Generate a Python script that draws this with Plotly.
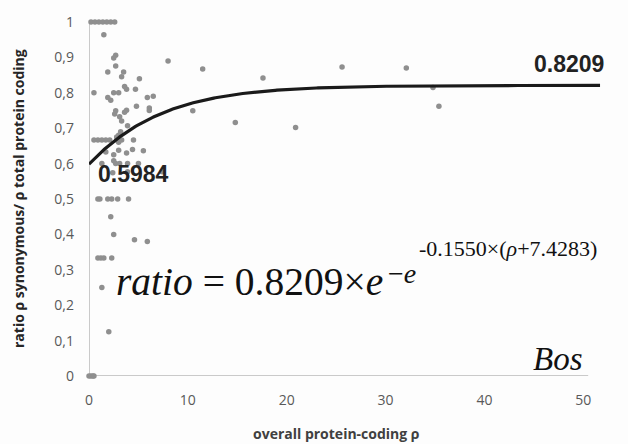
import numpy as np
import plotly.graph_objects as go

# observed points (overall protein-coding rho, ratio)
x_pts = [0.2, 0.6, 1.0, 1.4, 1.8, 2.2, 2.6,
         1.5, 2.7, 2.5, 1.9, 2.7, 3.5, 3.3, 5.1, 8.0,
         0.5, 2.5, 3.0, 3.6, 3.8, 4.7, 1.9, 2.2, 5.9, 6.5,
         4.8, 6.1, 6.1, 3.8, 3.6, 2.7, 2.6, 10.5,
         3.1, 3.3, 3.9, 3.2, 3.0,
         0.5, 0.9, 1.3, 1.7, 2.1, 2.8, 3.0, 3.3, 4.5,
         2.8, 3.0, 3.0, 4.4, 5.5, 3.8, 1.7, 2.5,
         1.3, 2.5, 2.7, 3.1, 3.9, 5.0, 2.4, 3.9, 7.4,
         0.9, 1.1, 1.9, 2.3, 2.9, 4.0,
         2.2, 2.5, 4.6, 5.9, 0.9, 1.2, 1.5, 2.3, 1.3, 2.0,
         0.0, 0.2, 0.4, 0.5,
         11.5, 17.6, 14.8, 20.9, 25.6, 32.1, 34.8, 35.4]
y_pts = [1, 1, 1, 1, 1, 1, 1,
         0.964, 0.906, 0.898, 0.859, 0.876, 0.859, 0.845, 0.84, 0.89,
         0.80, 0.80, 0.80, 0.818, 0.81, 0.81, 0.787, 0.779, 0.787, 0.79,
         0.762, 0.757, 0.75, 0.751, 0.745, 0.749, 0.74, 0.749,
         0.732, 0.72, 0.707, 0.69, 0.68,
         0.667, 0.667, 0.667, 0.667, 0.667, 0.667, 0.667, 0.667, 0.667,
         0.675, 0.66, 0.638, 0.64, 0.636, 0.63, 0.633, 0.625,
         0.6, 0.608, 0.6, 0.6, 0.6, 0.6, 0.574, 0.577, 0.577,
         0.5, 0.5, 0.5, 0.5, 0.5, 0.5,
         0.45, 0.40, 0.385, 0.38, 0.333, 0.333, 0.333, 0.333, 0.25, 0.125,
         0, 0, 0, 0,
         0.867, 0.842, 0.716, 0.702, 0.873, 0.870, 0.815, 0.762]

# Gompertz fit parameters shown on the chart
A_ASYM = 0.8209
B_RATE = 0.1550
C_SHIFT = 7.4283
FIT_X_MAX = 51.7

x_ticks = [0, 10, 20, 30, 40, 50]
y_ticks = [0, 0.1, 0.2, 0.3, 0.4, 0.5, 0.6, 0.7, 0.8, 0.9, 1]
y_tick_text = ["0", "0,1", "0,2", "0,3", "0,4", "0,5", "0,6", "0,7", "0,8", "0,9", "1"]

xf = np.linspace(0, FIT_X_MAX, 300)
yf = A_ASYM * np.exp(-np.exp(-B_RATE * (xf + C_SHIFT)))

fig = go.Figure()
fig.add_trace(go.Scatter(x=x_pts, y=y_pts, mode="markers",
                         marker=dict(size=5.5, color="#8f8f8f"),
                         cliponaxis=False, showlegend=False))
fig.add_trace(go.Scatter(x=xf, y=yf, mode="lines",
                         line=dict(color="#1a1a1a", width=3.2),
                         cliponaxis=False, showlegend=False))

axis_col = "#b8b8b8"
fig.add_shape(type="line", x0=0, x1=50.5, y0=0, y1=0, xref="x", yref="y",
              line=dict(color=axis_col, width=1.5), layer="below")
fig.add_shape(type="line", x0=0, x1=0, y0=0, y1=1, xref="x", yref="y",
              line=dict(color=axis_col, width=1.5), layer="below")

serif = "Liberation Serif"
ann = []
ann.append(dict(x=FIT_X_MAX, y=A_ASYM, xref="x", yref="y", text="<b>%.4f</b>" % A_ASYM,
                xanchor="right", yanchor="bottom", yshift=6, xshift=6, showarrow=False,
                font=dict(family="Liberation Sans", size=23, color="#222")))
ann.append(dict(x=0.7, y=0.5984, xref="x", yref="y", text="<b>0.5984</b>",
                xanchor="left", yanchor="top", yshift=5, showarrow=False,
                font=dict(family="Liberation Sans", size=23, color="#222")))
ann.append(dict(x=2.55, y=0.265, xref="x", yref="y",
                text="<i>ratio</i> = 0.8209×<i>e</i>",
                xanchor="left", yanchor="middle", showarrow=False,
                font=dict(family=serif, size=39.5, color="#111")))
ann.append(dict(x=30.0, y=0.29, xref="x", yref="y",
                text="−<i>e</i>",
                xanchor="left", yanchor="middle", showarrow=False,
                font=dict(family=serif, size=28, color="#111")))
ann.append(dict(x=33.2, y=0.36, xref="x", yref="y",
                text="-0.1550×(<i>ρ</i>+7.4283)",
                xanchor="left", yanchor="middle", showarrow=False,
                font=dict(family=serif, size=22, color="#111")))
ann.append(dict(x=50.2, y=0.005, xref="x", yref="y", text="<i>Bos</i>",
                xanchor="right", yanchor="bottom", yshift=-5, showarrow=False,
                font=dict(family=serif, size=33, color="#111")))
ann.append(dict(x=25, y=0, xref="x", yref="paper", text="<b>overall protein-coding ρ</b>",
                xanchor="center", yanchor="middle", yshift=-57, showarrow=False,
                font=dict(family="Open Sans", size=14, color="#404040")))
ann.append(dict(x=0, y=0.5, xref="paper", yref="paper",
                text="<b>ratio ρ synonymous/ ρ total protein coding</b>",
                textangle=-90, xanchor="center", yanchor="middle", xshift=-71,
                showarrow=False,
                font=dict(family="Open Sans", size=14, color="#262626")))

fig.update_layout(
    width=628, height=444,
    margin=dict(l=89, r=25, t=14, b=68),
    paper_bgcolor="#fdfdfd", plot_bgcolor="#fdfdfd",
    annotations=ann,
    xaxis=dict(range=[0, 52], tickvals=x_ticks, ticktext=[str(v) for v in x_ticks],
               showgrid=False, zeroline=False, showline=False, ticks="",
               ticklabelstandoff=14,
               tickfont=dict(family="Open Sans", size=14, color="#595959")),
    yaxis=dict(range=[0, 1], tickvals=y_ticks, ticktext=y_tick_text,
               showgrid=False, zeroline=False, showline=False, ticks="",
               ticklabelstandoff=14,
               tickfont=dict(family="Open Sans", size=14, color="#595959")),
)

fig.write_html("out.html")
